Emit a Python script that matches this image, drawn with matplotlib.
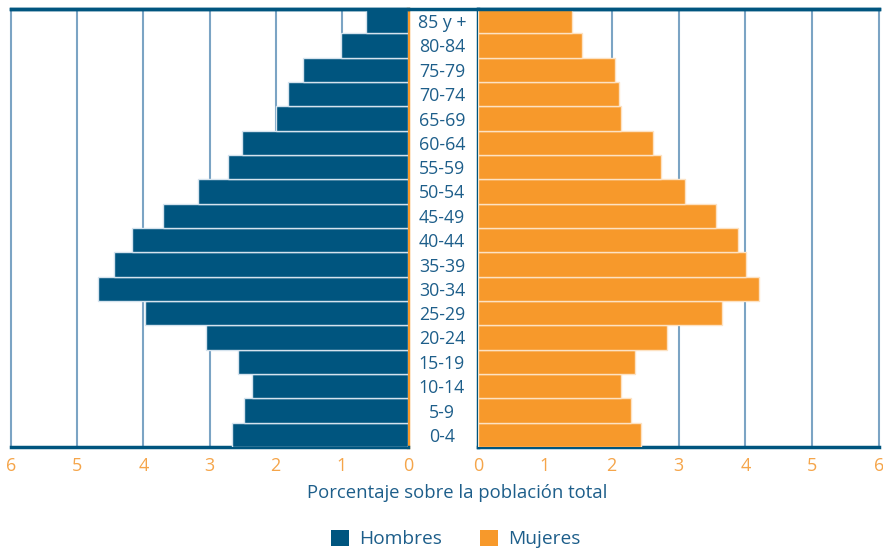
import matplotlib.pyplot as plt
from matplotlib.lines import Line2D
from matplotlib.patches import Patch

plt.rcParams['font.family'] = ['Open Sans', 'DejaVu Sans']

# grupos de edad, de abajo hacia arriba
edades = ['0-4', '5-9', '10-14', '15-19', '20-24', '25-29', '30-34', '35-39', '40-44',
          '45-49', '50-54', '55-59', '60-64', '65-69', '70-74', '75-79', '80-84', '85 y +']
hombres = [2.66, 2.48, 2.36, 2.57, 3.06, 3.98, 4.69, 4.44, 4.17,
           3.71, 3.18, 2.72, 2.51, 1.99, 1.81, 1.59, 1.01, 0.64]
mujeres = [2.44, 2.29, 2.14, 2.35, 2.83, 3.65, 4.21, 4.01, 3.89,
           3.56, 3.10, 2.74, 2.62, 2.14, 2.11, 2.05, 1.55, 1.40]
ticks = [0, 1, 2, 3, 4, 5, 6]

azul = '#00557f'
naranja = '#f7992b'
texto = '#1d5e8a'
rejilla = '#7ba4c4'
tick_col = '#f5a54a'

fig = plt.figure(figsize=(8.83, 5.53), dpi=100)
ax_h = fig.add_axes([11 / 883, 106 / 553, 397 / 883, 438 / 553])
ax_m = fig.add_axes([478 / 883, 106 / 553, 401 / 883, 438 / 553])

ax_h.barh(edades, hombres, height=1.0, color=azul, edgecolor='#d5e3ee', linewidth=1, zorder=3)
ax_m.barh(edades, mujeres, height=1.0, color=naranja, edgecolor='#fde2c3', linewidth=1, zorder=3)

for ax in (ax_h, ax_m):
    ax.set_xlim(0, 6)
    ax.set_ylim(-0.5, len(edades) - 0.5)
    ax.set_xticks(ticks)
    ax.set_xticklabels([str(t) for t in ticks])
    ax.tick_params(axis='x', length=0, pad=7, labelsize=13, labelcolor=tick_col)
    for t in ticks[1:-1]:
        ax.axvline(t, color=rejilla, lw=1.5, zorder=1)
    ax.spines['top'].set_color(azul)
    ax.spines['bottom'].set_color(azul)
    ax.spines['top'].set_linewidth(2.5)
    ax.spines['bottom'].set_linewidth(2.5)

ax_h.invert_xaxis()
ax_h.set_yticks([])
ax_h.spines['left'].set_color(rejilla)
ax_h.spines['left'].set_linewidth(1.5)
ax_h.spines['right'].set_color(naranja)
ax_h.spines['right'].set_linewidth(2.5)

ax_m.spines['left'].set_color(azul)
ax_m.spines['left'].set_linewidth(2.5)
ax_m.spines['right'].set_color(rejilla)
ax_m.spines['right'].set_linewidth(1.5)
ax_m.set_yticks(range(len(edades)))
ax_m.set_yticklabels(edades, ha='center')
ax_m.tick_params(axis='y', length=0, pad=26, labelsize=12.8, labelcolor=texto)

# linea superior continua
fig.add_artist(Line2D([11 / 883, 879 / 883], [544 / 553, 544 / 553], color=azul, lw=2.5))

fig.text(457 / 883, 1 - 493 / 553, 'Porcentaje sobre la población total',
         ha='center', va='center', fontsize=13.3, color=texto)

handles = [Patch(facecolor=azul, label='Hombres'), Patch(facecolor=naranja, label='Mujeres')]
fig.legend(handles=handles, loc='center', bbox_to_anchor=(456 / 883, 1 - 539 / 553), ncol=2,
           frameon=False, fontsize=13.8, labelcolor=texto, handlelength=0.9, handleheight=0.9,
           handletextpad=0.55, columnspacing=2.0)

fig.savefig('out.png', dpi=100)
